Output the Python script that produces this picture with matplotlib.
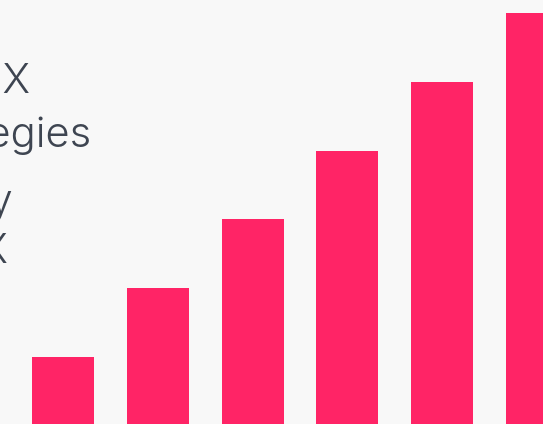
import matplotlib
matplotlib.use('Agg')
import matplotlib.pyplot as plt

plt.rcParams['font.family'] = ['Inter', 'DejaVu Sans']

# data
categories = ['1', '2', '3', '4', '5', '6']
values = [1, 2, 3, 4, 5, 6]

# text fragments on the left (clipped in the original)
title_lines = ['Better UX', 'strategies']
sub_lines = ['Strategy', 'for UX']

BG = '#f8f8f8'
BAR = '#ff2466'
TXT = '#3e4551'

W, H = 543, 424
fig = plt.figure(figsize=(W / 100, H / 100), dpi=100, facecolor=BG)
ax = fig.add_axes([0, 0, 1, 1])
ax.set_facecolor(BG)

x = list(range(len(values)))
ax.bar(x, values, width=0.654, color=BAR, zorder=2)

ax.set_xlim(-0.665, 5.063)
ax.set_ylim(0.026, 6.189)
ax.axis('off')

def put(txt, px, py):
    fig.text(px / W, 1 - py / H, txt, ha='right', va='baseline',
             fontsize=30, fontweight=300, color=TXT, zorder=3)

put(title_lines[0], 30, 93)
put(title_lines[1], 92, 147)
put(sub_lines[0], 13, 214)
put(sub_lines[1], 8, 263)

fig.savefig('out.png', dpi=100, facecolor=BG)
